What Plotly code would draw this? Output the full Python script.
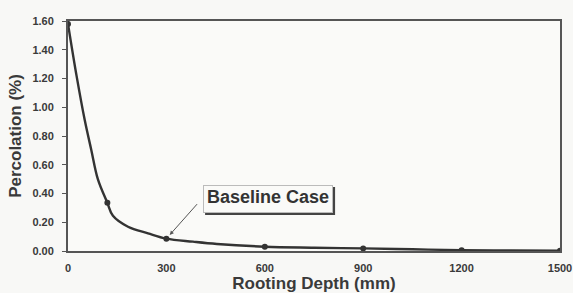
import plotly.graph_objects as go

# Measured data points (markers)
depth = [0, 120, 300, 600, 900, 1200, 1500]
percolation = [1.58, 0.335, 0.086, 0.03, 0.018, 0.006, 0.002]

# Smoothed curve
curve_depth = [0, 26, 51, 71, 91, 120, 137, 183, 244, 300, 381, 454, 600, 750, 900, 1050, 1200, 1350, 1500]
curve_perc = [1.58, 1.22, 0.911, 0.703, 0.50, 0.335, 0.245, 0.169, 0.123, 0.086, 0.065, 0.049, 0.030, 0.023, 0.018, 0.012, 0.006, 0.004, 0.002]

x_ticks = [0, 300, 600, 900, 1200, 1500]
y_ticks = [0.0, 0.2, 0.4, 0.6, 0.8, 1.0, 1.2, 1.4, 1.6]
y_labels = [f"{v:.2f}" for v in y_ticks]

fig = go.Figure()
fig.add_trace(go.Scatter(
    x=curve_depth, y=curve_perc, mode="lines",
    line=dict(color="#333333", width=2.4, shape="spline", smoothing=1.0),
    showlegend=False, hoverinfo="skip",
))
fig.add_trace(go.Scatter(
    x=depth, y=percolation, mode="markers",
    marker=dict(color="#333333", size=6),
    showlegend=False,
))

tickfont = dict(family="Liberation Sans, Arial", size=11, color="#3a3a3a", weight="bold")
titlefont = dict(family="Liberation Sans, Arial", size=17, color="#3a3a3a", weight="bold")

fig.update_layout(
    width=573, height=293,
    margin=dict(l=68, r=13, t=21, b=42),
    paper_bgcolor="#f8f8f6", plot_bgcolor="#fafaf8",
    xaxis=dict(range=[0, 1500], tickvals=x_ticks, ticks="outside", ticklen=6,
               tickcolor="rgba(0,0,0,0)", showgrid=False, zeroline=False, automargin=False,
               showline=True, linecolor="#555555", linewidth=2, mirror=True,
               tickfont=tickfont, title=dict(text="Rooting Depth (mm)", font=titlefont, standoff=4)),
    yaxis=dict(range=[0, 1.6], tickvals=y_ticks, ticktext=y_labels, ticks="outside", ticklen=4,
               tickcolor="#555555", showgrid=False, zeroline=False, automargin=False,
               ticklabelstandoff=6,
               showline=True, linecolor="#555555", linewidth=2, mirror=True,
               tickfont=tickfont, title=dict(text="Percolation (%)", font=titlefont, standoff=6)),
)

# arrow
fig.add_annotation(x=300, y=0.086, ax=32, ay=-36, text="", showarrow=True,
                   arrowhead=2, arrowsize=0.8, arrowwidth=1, arrowcolor="#555555", standoff=5)
# shadow of the label box
fig.add_shape(type="rect", xref="x", yref="y", xsizemode="pixel", ysizemode="pixel",
              xanchor=610, yanchor=0.362, x0=-63, x1=67, y0=-16, y1=12,
              fillcolor="#444444", line=dict(width=0), layer="above")
fig.add_annotation(x=610, y=0.362, text="Baseline Case", showarrow=False,
                   width=126, height=24, valign="top",
                   font=dict(family="Liberation Sans, Arial", size=18, color="#333333", weight="bold"),
                   bgcolor="#fafaf8", borderpad=1, borderwidth=1, bordercolor="#bbbbbb")

fig.write_html("out.html", config={"displayModeBar": False},
               post_script="document.body.style.margin='0';document.body.style.background='#f8f8f6';")
